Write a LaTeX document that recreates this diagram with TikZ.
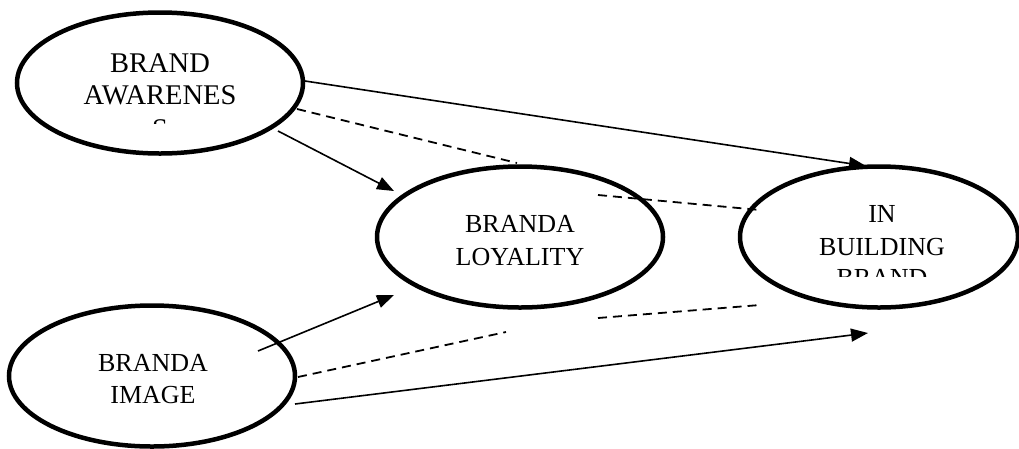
\documentclass[tikz,border=0pt]{standalone}
\usepackage{fontspec}
\setmainfont{Liberation Serif}
\usetikzlibrary{shapes.geometric,arrows.meta}
\tikzset{
  ell/.style={ellipse, draw=black, line width=4.5pt, inner sep=0pt, minimum width=286pt, minimum height=141pt},
  txt/.style={inner sep=0pt, anchor=base, font=\fontsize{26pt}{33pt}\selectfont},
  wide/.style={font=\fontsize{28.5pt}{33pt}\selectfont},
  con/.style={line width=1.6pt},
  arr/.style={con, -{Triangle[length=17pt,width=13pt]}},
  dsh/.style={con, line width=1.8pt, dash pattern=on 9pt off 6pt},
}
\begin{document}
\begin{tikzpicture}[x=1pt,y=-1pt]
\useasboundingbox (0,0) rectangle (1019,448);
% ellipses
\node[ell] (aw) at (160,83) {};
\node[ell] (lo) at (520,237) {};
\node[ell, minimum width=278pt] (bb) at (879,237) {};
\node[ell] (im) at (152,376) {};
% texts
\begin{scope}
\clip (40,30) rectangle (280,123);
\node[txt,wide] (aw1) at (160,72) {BRAND};
\node[txt,wide] (aw2) at (160,104) {AWARENES};
\node[txt,wide] (aw3) at (160,138) {S};
\end{scope}
\node[txt] (lo1) at (520,232) {BRANDA};
\node[txt] (lo2) at (520,265) {LOYALITY};
\begin{scope}
\clip (760,190) rectangle (1000,276);
\node[txt] (bb1) at (882,222) {IN};
\node[txt] (bb2) at (882,255) {BUILDING};
\node[txt] (bb3) at (882,286) {BRAND};
\end{scope}
\node[txt] (im1) at (153,371) {BRANDA};
\node[txt] (im2) at (153,403) {IMAGE};
% connector end points
\coordinate (a1) at (305,81);
\coordinate (b1) at (866,166);
\coordinate (a2) at (297,109);
\coordinate (b2) at (517,163);
\coordinate (a3) at (598,195);
\coordinate (b3) at (760,210);
\coordinate (a4) at (278,131);
\coordinate (b4) at (394,191);
\coordinate (a5) at (258,351);
\coordinate (b5) at (394,295);
\coordinate (a6) at (298,377);
\coordinate (b6) at (506,332);
\coordinate (a7) at (598,318);
\coordinate (b7) at (760,305);
\coordinate (a8) at (295,404);
\coordinate (b8) at (868,333);
% connectors
\draw[arr] (a1) -- (b1);
\draw[dsh] (a2) -- (b2);
\draw[dsh] (a3) -- (b3);
\draw[arr] (a4) -- (b4);
\draw[arr] (a5) -- (b5);
\draw[dsh] (a6) -- (b6);
\draw[dsh] (a7) -- (b7);
\draw[arr] (a8) -- (b8);
\end{tikzpicture}
\end{document}
